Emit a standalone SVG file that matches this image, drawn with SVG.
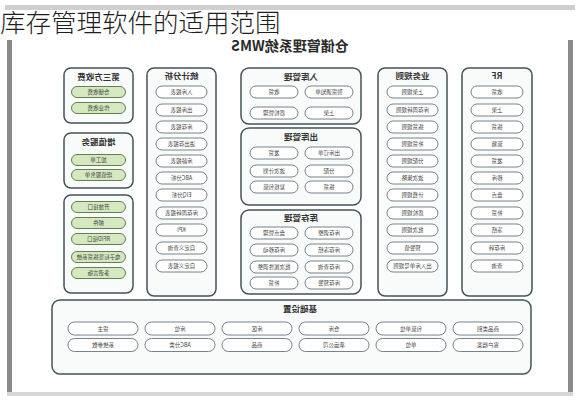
<svg xmlns="http://www.w3.org/2000/svg" width="580" height="400" viewBox="0 0 580 400">
<style>
.bg{fill:#ffffff}
.box{fill:#f9fbfb;stroke:#44535a;stroke-width:1.5}
.pill{fill:#ffffff;stroke:#66757a;stroke-width:0.9}
.gpill{fill:#d4e9bf;stroke:#56733f;stroke-width:0.9}
.hd{font-family:"Noto Sans CJK SC","Noto Sans",sans-serif;font-size:8.5px;font-weight:bold;fill:#333;text-anchor:middle}
.it{font-family:"Noto Sans CJK SC","Noto Sans",sans-serif;font-size:5.5px;fill:#444;text-anchor:middle}
.main{font-family:"Noto Sans CJK SC","Noto Sans",sans-serif;font-size:14px;font-weight:bold;fill:#2a2a2a;text-anchor:middle}
.title{font-family:"Noto Sans CJK SC",sans-serif;font-size:25.5px;font-weight:300;fill:#1e1e1e}
</style>
<rect class="bg" x="0" y="0" width="580" height="400"/>
<g id="frame">
<rect x="5" y="5" width="570" height="5" fill="#cfcfcf"/>
<rect x="7" y="40" width="5" height="356" fill="#8a8a8a"/>
<rect x="568" y="40" width="5" height="356" fill="#8a8a8a"/>
<rect x="7" y="392" width="566" height="4" fill="#d6d6d6"/>
</g>
<g id="diagram" transform="matrix(-1 0 0 1 580 0)">
<text class="main" x="290" y="51">仓储管理系统WMS</text>

<g id="rf">
<rect class="box" x="48" y="68" width="70" height="228" rx="7"/>
<text class="hd" x="83" y="79">RF</text>
<rect class="pill" x="57" y="86" width="52" height="12" rx="6"/><text class="it" x="83" y="94">收货</text>
<rect class="pill" x="57" y="104" width="52" height="12" rx="6"/><text class="it" x="83" y="112">上架</text>
<rect class="pill" x="57" y="121" width="52" height="12" rx="6"/><text class="it" x="83" y="129">拣货</text>
<rect class="pill" x="57" y="138" width="52" height="12" rx="6"/><text class="it" x="83" y="146">装箱</text>
<rect class="pill" x="57" y="155" width="52" height="12" rx="6"/><text class="it" x="83" y="163">发货</text>
<rect class="pill" x="57" y="172" width="52" height="12" rx="6"/><text class="it" x="83" y="180">移库</text>
<rect class="pill" x="57" y="189" width="52" height="12" rx="6"/><text class="it" x="83" y="197">盘点</text>
<rect class="pill" x="57" y="207" width="52" height="12" rx="6"/><text class="it" x="83" y="215">补货</text>
<rect class="pill" x="57" y="224" width="52" height="12" rx="6"/><text class="it" x="83" y="232">冻结</text>
<rect class="pill" x="57" y="242" width="52" height="12" rx="6"/><text class="it" x="83" y="250">库存转</text>
<rect class="pill" x="57" y="260" width="52" height="12" rx="6"/><text class="it" x="83" y="268">查询</text>
</g>

<g id="rules">
<rect class="box" x="133" y="68" width="69" height="228" rx="7"/>
<text class="hd" x="167.5" y="79">业务规则</text>
<rect class="pill" x="142" y="86" width="51" height="12" rx="6"/><text class="it" x="167.5" y="94">上架规则</text>
<rect class="pill" x="142" y="104" width="51" height="12" rx="6"/><text class="it" x="167.5" y="112">库存周转规则</text>
<rect class="pill" x="142" y="121" width="51" height="12" rx="6"/><text class="it" x="167.5" y="129">拣货规则</text>
<rect class="pill" x="142" y="138" width="51" height="12" rx="6"/><text class="it" x="167.5" y="146">补货规则</text>
<rect class="pill" x="142" y="155" width="51" height="12" rx="6"/><text class="it" x="167.5" y="163">分配规则</text>
<rect class="pill" x="142" y="172" width="51" height="12" rx="6"/><text class="it" x="167.5" y="180">波次策略</text>
<rect class="pill" x="142" y="189" width="51" height="12" rx="6"/><text class="it" x="167.5" y="197">计费规则</text>
<rect class="pill" x="142" y="207" width="51" height="12" rx="6"/><text class="it" x="167.5" y="215">质检规则</text>
<rect class="pill" x="142" y="224" width="51" height="12" rx="6"/><text class="it" x="167.5" y="232">批次规则</text>
<rect class="pill" x="142" y="242" width="51" height="12" rx="6"/><text class="it" x="167.5" y="250">预警值</text>
<rect class="pill" x="142" y="260" width="51" height="12" rx="6"/><text class="it" x="167.5" y="268">出入库单号规则</text>
</g>

<g id="inbound">
<rect class="box" x="219" y="68" width="120" height="56" rx="8"/>
<text class="hd" x="279" y="80">入库管理</text>
<rect class="pill" x="227" y="86" width="48" height="12" rx="6"/><text class="it" x="251" y="94">到货通知单</text>
<rect class="pill" x="282" y="86" width="48" height="12" rx="6"/><text class="it" x="306" y="94">收货</text>
<rect class="pill" x="227" y="107" width="48" height="12" rx="6"/><text class="it" x="251" y="115">上架</text>
<rect class="pill" x="282" y="107" width="48" height="12" rx="6"/><text class="it" x="306" y="115">质检管理</text>
</g>

<g id="outbound">
<rect class="box" x="219" y="128" width="120" height="77" rx="8"/>
<text class="hd" x="279" y="140">出库管理</text>
<rect class="pill" x="227" y="147" width="48" height="12" rx="6"/><text class="it" x="251" y="155">出库订单</text>
<rect class="pill" x="282" y="147" width="48" height="12" rx="6"/><text class="it" x="306" y="155">发货</text>
<rect class="pill" x="227" y="165" width="48" height="12" rx="6"/><text class="it" x="251" y="173">分配</text>
<rect class="pill" x="282" y="165" width="48" height="12" rx="6"/><text class="it" x="306" y="173">波次计划</text>
<rect class="pill" x="227" y="181" width="48" height="12" rx="6"/><text class="it" x="251" y="189">拣货</text>
<rect class="pill" x="282" y="181" width="48" height="12" rx="6"/><text class="it" x="306" y="189">复核包装</text>
</g>

<g id="inventory">
<rect class="box" x="219" y="210" width="120" height="84" rx="8"/>
<text class="hd" x="279" y="221">库存管理</text>
<rect class="pill" x="227" y="227" width="48" height="12" rx="6"/><text class="it" x="251" y="235">库存调整</text>
<rect class="pill" x="282" y="227" width="48" height="12" rx="6"/><text class="it" x="306" y="235">盘点管理</text>
<rect class="pill" x="227" y="244" width="48" height="12" rx="6"/><text class="it" x="251" y="252">库存冻结</text>
<rect class="pill" x="282" y="244" width="48" height="12" rx="6"/><text class="it" x="306" y="252">库存移动</text>
<rect class="pill" x="227" y="261" width="48" height="12" rx="6"/><text class="it" x="251" y="269">库存查询</text>
<rect class="pill" x="282" y="261" width="48" height="12" rx="6"/><text class="it" x="306" y="269">批次属性调整</text>
<rect class="pill" x="227" y="277" width="48" height="12" rx="6"/><text class="it" x="251" y="285">库存预警</text>
<rect class="pill" x="282" y="277" width="48" height="12" rx="6"/><text class="it" x="306" y="285">补货</text>
</g>

<g id="stats">
<rect class="box" x="364" y="68" width="69" height="228" rx="7"/>
<text class="hd" x="398.5" y="79">统计分析</text>
<rect class="pill" x="373" y="86" width="51" height="12" rx="6"/><text class="it" x="398.5" y="94">入库报表</text>
<rect class="pill" x="373" y="104" width="51" height="12" rx="6"/><text class="it" x="398.5" y="112">出库报表</text>
<rect class="pill" x="373" y="121" width="51" height="12" rx="6"/><text class="it" x="398.5" y="129">库存报表</text>
<rect class="pill" x="373" y="138" width="51" height="12" rx="6"/><text class="it" x="398.5" y="146">进出存报表</text>
<rect class="pill" x="373" y="155" width="51" height="12" rx="6"/><text class="it" x="398.5" y="163">库龄报表</text>
<rect class="pill" x="373" y="172" width="51" height="12" rx="6"/><text class="it" x="398.5" y="180">ABC分析</text>
<rect class="pill" x="373" y="189" width="51" height="12" rx="6"/><text class="it" x="398.5" y="197">EIQ分析</text>
<rect class="pill" x="373" y="207" width="51" height="12" rx="6"/><text class="it" x="398.5" y="215">库存周转报表</text>
<rect class="pill" x="373" y="224" width="51" height="12" rx="6"/><text class="it" x="398.5" y="232">KPI</text>
<rect class="pill" x="373" y="242" width="51" height="12" rx="6"/><text class="it" x="398.5" y="250">自定义查询</text>
<rect class="pill" x="373" y="260" width="51" height="12" rx="6"/><text class="it" x="398.5" y="268">自定义报表</text>
</g>

<g id="billing">
<rect class="box" x="447" y="68" width="69" height="55" rx="7"/>
<text class="hd" x="481.5" y="80">第三方收费</text>
<rect class="gpill" x="454.5" y="86.5" width="54" height="11" rx="5.5"/><text class="it" x="481.5" y="94">仓储收费</text>
<rect class="gpill" x="454.5" y="102.5" width="54" height="11" rx="5.5"/><text class="it" x="481.5" y="110">作业收费</text>
</g>

<g id="vas">
<rect class="box" x="447" y="133" width="69" height="55" rx="7"/>
<text class="hd" x="481.5" y="145">增值服务</text>
<rect class="gpill" x="454.5" y="154.5" width="54" height="11" rx="5.5"/><text class="it" x="481.5" y="162">加工单</text>
<rect class="gpill" x="454.5" y="169.5" width="54" height="11" rx="5.5"/><text class="it" x="481.5" y="177">增值服务单</text>
</g>

<g id="extensions">
<rect class="box" x="447" y="195" width="69" height="98" rx="7"/>
<rect class="gpill" x="454.5" y="201.5" width="54" height="11" rx="5.5"/><text class="it" x="481.5" y="209">开放接口</text>
<rect class="gpill" x="454.5" y="217.5" width="54" height="11" rx="5.5"/><text class="it" x="481.5" y="225">邮件</text>
<rect class="gpill" x="454.5" y="233.5" width="54" height="11" rx="5.5"/><text class="it" x="481.5" y="241">RFID接口</text>
<rect class="gpill" x="454.5" y="251.5" width="54" height="11" rx="5.5"/><text class="it" x="481.5" y="259">电子标签拣货系统</text>
<rect class="gpill" x="454.5" y="267.5" width="54" height="11" rx="5.5"/><text class="it" x="481.5" y="275">多语言版</text>
</g>

<g id="basic">
<rect class="box" x="49" y="300" width="479" height="74" rx="8"/>
<text class="hd" x="280" y="312">基础设置</text>
<rect class="pill" x="57" y="322" width="70" height="13" rx="6.5"/><text class="it" x="92" y="330.5">商品类别</text>
<rect class="pill" x="134" y="322" width="70" height="13" rx="6.5"/><text class="it" x="169" y="330.5">包装单位</text>
<rect class="pill" x="211" y="322" width="70" height="13" rx="6.5"/><text class="it" x="246" y="330.5">仓库</text>
<rect class="pill" x="288" y="322" width="70" height="13" rx="6.5"/><text class="it" x="323" y="330.5">库区</text>
<rect class="pill" x="365" y="322" width="70" height="13" rx="6.5"/><text class="it" x="400" y="330.5">库位</text>
<rect class="pill" x="442" y="322" width="70" height="13" rx="6.5"/><text class="it" x="477" y="330.5">货主</text>
<rect class="pill" x="57" y="338.5" width="70" height="13" rx="6.5"/><text class="it" x="92" y="347">客户档案</text>
<rect class="pill" x="134" y="338.5" width="70" height="13" rx="6.5"/><text class="it" x="169" y="347">单位</text>
<rect class="pill" x="211" y="338.5" width="70" height="13" rx="6.5"/><text class="it" x="246" y="347">承运公司</text>
<rect class="pill" x="288" y="338.5" width="70" height="13" rx="6.5"/><text class="it" x="323" y="347">商品</text>
<rect class="pill" x="365" y="338.5" width="70" height="13" rx="6.5"/><text class="it" x="400" y="347">ABC分类</text>
<rect class="pill" x="442" y="338.5" width="70" height="13" rx="6.5"/><text class="it" x="477" y="347">系统参数</text>
</g>
</g>
<text class="title" x="0" y="32">库存管理软件的适用范围</text>
</svg>
